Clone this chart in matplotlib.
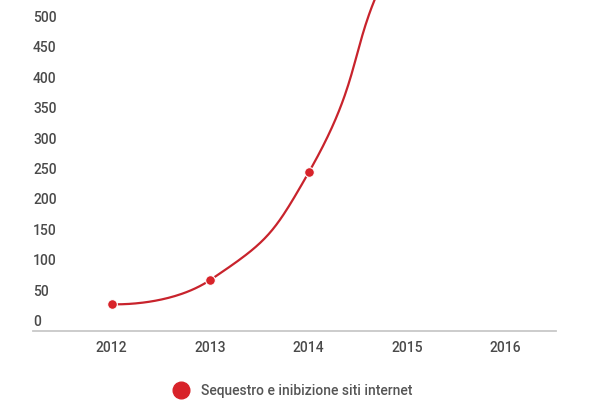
import numpy as np
import matplotlib
matplotlib.use('Agg')
from matplotlib import pyplot as plt
from matplotlib.lines import Line2D

# data (2015 and 2016 lie above the visible area)
years = [2012, 2013, 2014, 2015, 2016]
values = [44, 84, 261, 650, 800]
y_ticks = [0, 50, 100, 150, 200, 250, 300, 350, 400, 450, 500]
series_name = 'Sequestro e inibizione siti internet'

red = '#d8232a'
line_red = '#c8232c'
text_grey = '#4a4a4a'

plt.rcParams['font.family'] = ['Roboto', 'DejaVu Sans']


# smooth bezier curve through the points, built in pixel space
def smooth(ax, x, y, t=0.5, n=60):
	p = ax.transData.transform(np.column_stack([x, y]))
	k = len(p)
	c_in = p.copy()
	c_out = p.copy()
	for i in range(1, k - 1):
		d0 = np.hypot(*(p[i] - p[i - 1]))
		d1 = np.hypot(*(p[i + 1] - p[i]))
		v = p[i + 1] - p[i - 1]
		c_in[i] = p[i] - t * d0 / (d0 + d1) * v
		c_out[i] = p[i] + t * d1 / (d0 + d1) * v
	s = np.linspace(0, 1, n)[:, None]
	pts = []
	for i in range(k - 1):
		b = ((1 - s)**3 * p[i] + 3 * (1 - s)**2 * s * c_out[i]
			 + 3 * (1 - s) * s**2 * c_in[i + 1] + s**3 * p[i + 1])
		pts.append(b)
	pts = ax.transData.inverted().transform(np.vstack(pts))
	return pts[:, 0], pts[:, 1]


fig = plt.figure(figsize=(6, 4), dpi=100)
ax = fig.add_axes([33 / 600, 1 - 331 / 400, (556 - 33) / 600, 331 / 400])
ax.set_xlim(2011.2, 2016.51)
ax.set_ylim(0, 544.4)

cx, cy = smooth(ax, years, values)
ax.plot(cx, cy, color=line_red, lw=1.6, zorder=2)
ax.plot(years, values, 'o', color=red, ms=7, mec='white', mew=0.8, zorder=3)

for s in ['top', 'right', 'left']:
	ax.spines[s].set_visible(False)
ax.spines['bottom'].set_color('#c8c8c8')
ax.spines['bottom'].set_linewidth(1.3)

ax.set_yticks([])
ax.set_xticks(years)
ax.set_xticklabels([str(y) for y in years], fontsize=10, color=text_grey,
				   fontweight='medium')
ax.tick_params(axis='x', length=0, pad=7)

# y labels sit just above their value, left aligned
for v in y_ticks:
	ax.annotate(str(v), xy=(0, v), xycoords=('axes fraction', 'data'),
				xytext=(0, 1.5), textcoords='offset points',
				ha='left', va='bottom', fontsize=10, color=text_grey,
				fontweight='medium', annotation_clip=False)

handle = Line2D([], [], marker='o', ls='none', color=red, ms=12)
fig.legend([handle], [series_name], loc='center left',
		   bbox_to_anchor=(155 / 600, 9 / 400), frameon=False,
		   prop={'size': 10, 'weight': 'medium'}, labelcolor='#555555',
		   handletextpad=0.4)

fig.savefig('out.png', dpi=100)
